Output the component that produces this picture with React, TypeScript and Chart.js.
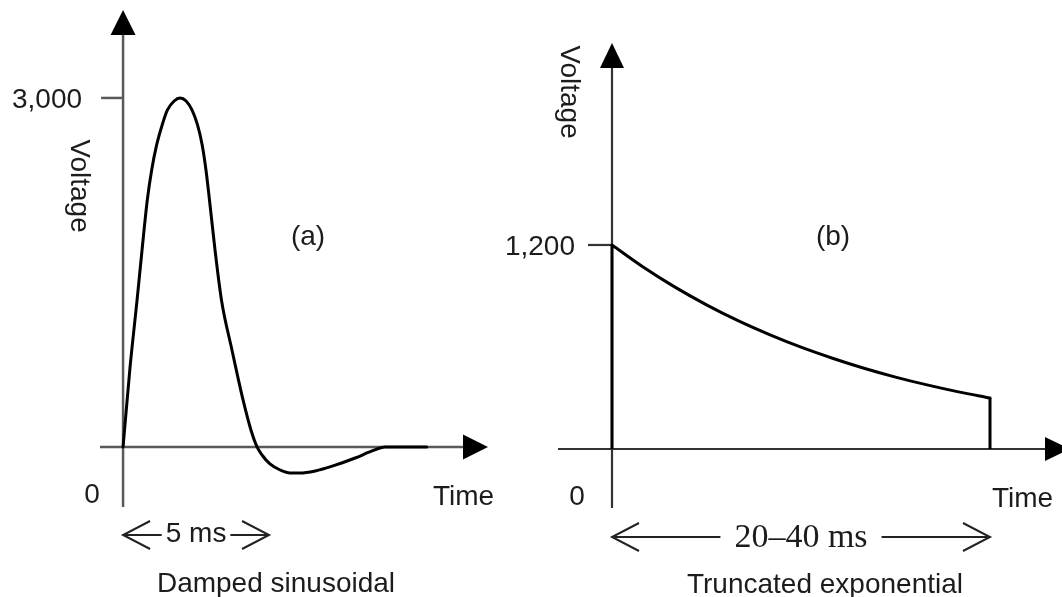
import React, { useEffect, useRef } from "react";
import { Chart, registerables } from "chart.js";

Chart.register(...registerables);

// ---------- (a) Damped sinusoidal ----------
const sineTimeMs = [0, 0.24, 0.48, 0.65, 0.83, 0.98, 1.15, 1.34, 1.52, 1.75, 1.95, 2.16, 2.36, 2.55, 2.71, 2.84, 2.96, 3.15, 3.37, 3.73, 4.11, 4.38, 4.59, 4.76, 5.03, 5.38, 5.72, 6.06, 6.58, 7.19, 7.95, 8.53, 8.97, 10.4];
const sineVoltage = [0, 688, 1264, 1693, 2123, 2381, 2596, 2768, 2897, 2974, 3000, 2974, 2897, 2768, 2596, 2381, 2123, 1693, 1264, 834, 404, 146, 0, -69, -146, -198, -224, -224, -206, -163, -95, -34, 0, 0];
const sineTickValues = [3000];
const sineTickLabels = ["3,000"];
const sineSpanMs = [0, 5];
const sineSpanLabel = "5 ms";
const sineCaption = "Damped sinusoidal";
const sineTag = "(a)";

// ---------- (b) Truncated exponential ----------
const expTimeMs = [0, 2.5, 5, 7.5, 10, 12.5, 15, 17.5, 20, 22.5, 25, 27.5, 30];
const expVoltage = [1200, 1069, 952, 848, 755, 673, 599, 534, 475, 423, 377, 336, 300];
const expTickValues = [1200];
const expTickLabels = ["1,200"];
const expSpanMs = [0, 30];
const expSpanLabel = "20–40 ms";
const expCaption = "Truncated exponential";
const expTag = "(b)";

const axisTitle = "Voltage";
const timeTitle = "Time";
const originLabel = "0";

const SANS = '"Liberation Sans", Arial, Helvetica, sans-serif';
const SERIF = '"Liberation Serif", "Times New Roman", serif';
const TEXT = "#1c1c1c";

type PanelCfg = {
  left: number;
  width: number;
  padding: { left: number; right: number; top: number; bottom: number };
  xMin: number; xMax: number; yMin: number; yMax: number;
  axisColor: string; axisWidth: number;
  xArrowOver: number; arrowLen: number; arrowHalf: number;
  tickValues: number[]; tickLabels: string[]; tickLen: number; tickLabelGap: number;
  spanMs: number[]; spanLabel: string; spanFont: string; spanGap: number; spanY: number; spanBaseline: number;
  caption: string; captionX: number; captionY: number;
  tag: string; tagX: number; tagY: number;
  voltX: number; voltY: number;
  zeroDx: number; zeroY: number;
  timeX: number; timeY: number;
};

function diagramPlugin(cfg: PanelCfg) {
  return {
    id: "diagram",
    beforeDatasetsDraw(chart: any) {
      const { ctx, chartArea: area } = chart;
      const xs = chart.scales.x;
      const ys = chart.scales.y;
      const ox = xs.getPixelForValue(0);
      const oy = ys.getPixelForValue(0);
      const xTip = area.right + cfg.xArrowOver;
      const yTip = area.top;
      const L = cfg.arrowLen;
      const H = cfg.arrowHalf;
      ctx.save();
      ctx.strokeStyle = cfg.axisColor;
      ctx.lineWidth = cfg.axisWidth;
      ctx.beginPath();
      ctx.moveTo(area.left, oy);
      ctx.lineTo(xTip - L + 2, oy);
      ctx.moveTo(ox, area.bottom);
      ctx.lineTo(ox, yTip + L - 2);
      ctx.stroke();
      cfg.tickValues.forEach((v) => {
        const py = ys.getPixelForValue(v);
        ctx.beginPath();
        ctx.moveTo(ox - cfg.tickLen, py);
        ctx.lineTo(ox, py);
        ctx.stroke();
      });
      ctx.fillStyle = "#000";
      ctx.beginPath();
      ctx.moveTo(xTip, oy);
      ctx.lineTo(xTip - L, oy - H);
      ctx.lineTo(xTip - L, oy + H);
      ctx.closePath();
      ctx.fill();
      ctx.beginPath();
      ctx.moveTo(ox, yTip);
      ctx.lineTo(ox - H, yTip + L);
      ctx.lineTo(ox + H, yTip + L);
      ctx.closePath();
      ctx.fill();
      ctx.restore();
    },
    afterDraw(chart: any) {
      const { ctx } = chart;
      const xs = chart.scales.x;
      const ys = chart.scales.y;
      const ox = xs.getPixelForValue(0);
      const dx = -cfg.left; // free labels are given in page coordinates
      ctx.save();
      ctx.fillStyle = TEXT;
      ctx.font = `28px ${SANS}`;
      ctx.textBaseline = "alphabetic";

      // tick labels
      ctx.textAlign = "right";
      cfg.tickValues.forEach((v, i) => {
        const py = ys.getPixelForValue(v);
        ctx.fillText(cfg.tickLabels[i], ox - cfg.tickLabelGap, py + 10);
      });

      // origin label
      ctx.textAlign = "center";
      ctx.fillText(originLabel, ox - cfg.zeroDx, cfg.zeroY);

      // time label
      ctx.textAlign = "left";
      ctx.fillText(timeTitle, cfg.timeX + dx, cfg.timeY);

      // tag + caption
      ctx.textAlign = "center";
      ctx.fillText(cfg.tag, cfg.tagX + dx, cfg.tagY);
      ctx.fillText(cfg.caption, cfg.captionX + dx, cfg.captionY);

      // voltage (rotated, reading downward)
      ctx.save();
      ctx.translate(cfg.voltX + dx, cfg.voltY);
      ctx.rotate(Math.PI / 2);
      ctx.textAlign = "center";
      ctx.fillText(axisTitle, 0, 0);
      ctx.restore();

      // span arrow
      const xl = xs.getPixelForValue(cfg.spanMs[0]);
      const xr = xs.getPixelForValue(cfg.spanMs[1]);
      const cx = (xl + xr) / 2;
      const y = cfg.spanY;
      ctx.font = cfg.spanFont;
      const w = ctx.measureText(cfg.spanLabel).width;
      ctx.textAlign = "center";
      ctx.fillText(cfg.spanLabel, cx, cfg.spanBaseline);
      ctx.strokeStyle = "#222";
      ctx.lineWidth = 2;
      ctx.beginPath();
      ctx.moveTo(xl, y);
      ctx.lineTo(cx - w / 2 - cfg.spanGap, y);
      ctx.moveTo(cx + w / 2 + cfg.spanGap, y);
      ctx.lineTo(xr, y);
      ctx.moveTo(xl + 27, y - 14);
      ctx.lineTo(xl, y);
      ctx.lineTo(xl + 27, y + 14);
      ctx.moveTo(xr - 27, y - 14);
      ctx.lineTo(xr, y);
      ctx.lineTo(xr - 27, y + 14);
      ctx.stroke();
      ctx.restore();
    },
  };
}

const panelA: PanelCfg = {
  left: 0,
  width: 531,
  padding: { left: 100, right: 43, top: 10, bottom: 90 },
  xMin: -0.79, xMax: 12.5, yMin: -516, yMax: 3756,
  axisColor: "#5a5a5a", axisWidth: 2.5,
  xArrowOver: 0, arrowLen: 25, arrowHalf: 12.5,
  tickValues: sineTickValues, tickLabels: sineTickLabels, tickLen: 22, tickLabelGap: 41,
  spanMs: sineSpanMs, spanLabel: sineSpanLabel, spanFont: `28px ${SANS}`, spanGap: 4, spanY: 535, spanBaseline: 542,
  caption: sineCaption, captionX: 276, captionY: 592,
  tag: sineTag, tagX: 308, tagY: 245,
  voltX: 71, voltY: 186,
  zeroDx: 31, zeroY: 503,
  timeX: 433, timeY: 505,
};

const panelB: PanelCfg = {
  left: 470,
  width: 592,
  padding: { left: 88, right: 0, top: 43, bottom: 89 },
  xMin: -4.286, xMax: 35.714, yMin: -347, yMax: 2388,
  axisColor: "#333333", axisWidth: 2.2,
  xArrowOver: 8, arrowLen: 25, arrowHalf: 12,
  tickValues: expTickValues, tickLabels: expTickLabels, tickLen: 24, tickLabelGap: 37,
  spanMs: expSpanMs, spanLabel: expSpanLabel, spanFont: `34px ${SERIF}`, spanGap: 14, spanY: 537, spanBaseline: 547,
  caption: expCaption, captionX: 825, captionY: 593,
  tag: expTag, tagX: 833, tagY: 245,
  voltX: 561, voltY: 92,
  zeroDx: 35, zeroY: 505,
  timeX: 992, timeY: 507,
};

function buildDatasets(which: "a" | "b") {
  const common = {
    borderColor: "#000",
    borderWidth: 3,
    pointRadius: 0,
    fill: false,
    borderCapStyle: "round" as const,
    borderJoinStyle: "round" as const,
  };
  if (which === "a") {
    return [
      {
        ...common,
        data: sineTimeMs.map((t, i) => ({ x: t, y: sineVoltage[i] })),
        cubicInterpolationMode: "monotone" as const,
      },
    ];
  }
  const n = expTimeMs.length - 1;
  return [
    {
      ...common,
      data: expTimeMs.map((t, i) => ({ x: t, y: expVoltage[i] })),
      cubicInterpolationMode: "monotone" as const,
    },
    {
      ...common,
      borderCapStyle: "butt" as const,
      data: [
        { x: expTimeMs[0], y: 0 },
        { x: expTimeMs[0], y: expVoltage[0] },
      ],
      tension: 0,
    },
    {
      ...common,
      borderCapStyle: "butt" as const,
      borderJoinStyle: "miter" as const,
      data: [
        { x: expTimeMs[n], y: expVoltage[n] },
        { x: expTimeMs[n], y: 0 },
      ],
      tension: 0,
    },
  ];
}

function Panel({ cfg, which }: { cfg: PanelCfg; which: "a" | "b" }) {
  const ref = useRef<HTMLCanvasElement | null>(null);
  useEffect(() => {
    if (!ref.current) return;
    const chart = new Chart(ref.current, {
      type: "line",
      data: { datasets: buildDatasets(which) as any },
      options: {
        animation: false,
        responsive: false,
        maintainAspectRatio: false,
        events: [],
        layout: { padding: cfg.padding },
        plugins: {
          legend: { display: false },
          tooltip: { enabled: false },
          title: { display: false },
        },
        scales: {
          x: { type: "linear", min: cfg.xMin, max: cfg.xMax, display: false },
          y: { type: "linear", min: cfg.yMin, max: cfg.yMax, display: false },
        },
      },
      plugins: [diagramPlugin(cfg)],
    });
    return () => chart.destroy();
  }, [cfg, which]);
  return (
    <canvas
      ref={ref}
      width={cfg.width}
      height={597}
      style={{ position: "absolute", left: cfg.left, top: 0, width: cfg.width, height: 597 }}
    />
  );
}

export default function App() {
  return (
    <div
      style={{
        position: "fixed",
        left: 0,
        top: 0,
        width: 1062,
        height: 597,
        overflow: "hidden",
        background: "#fff",
      }}
    >
      <Panel cfg={panelA} which="a" />
      <Panel cfg={panelB} which="b" />
    </div>
  );
}
